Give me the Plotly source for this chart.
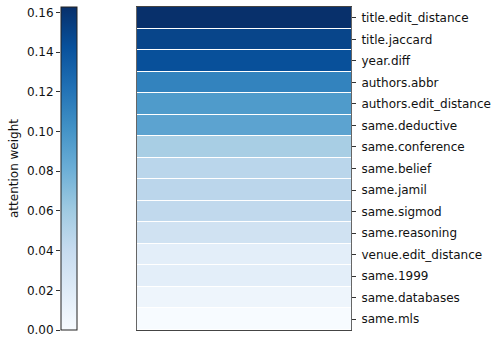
import plotly.graph_objects as go

features = ["title.edit_distance", "title.jaccard", "year.diff", "authors.abbr",
            "authors.edit_distance", "same.deductive", "same.conference", "same.belief",
            "same.jamil", "same.sigmod", "same.reasoning", "venue.edit_distance",
            "same.1999", "same.databases", "same.mls"]
weights = [0.1627, 0.150, 0.143, 0.111, 0.095, 0.089, 0.056, 0.0466, 0.0462,
           0.043, 0.032, 0.0165, 0.016, 0.0076, 0.0]
cbar_ticks = [0.00, 0.02, 0.04, 0.06, 0.08, 0.10, 0.12, 0.14, 0.16]

blues = [[0.0, "#f7fbff"], [0.125, "#deebf7"], [0.25, "#c6dbef"], [0.375, "#9ecae1"],
         [0.5, "#6baed6"], [0.625, "#4292c6"], [0.75, "#2171b5"], [0.875, "#08519c"],
         [1.0, "#08306b"]]

W, H = 493, 339
top, bottom = 7, 330
vmin, vmax = min(weights), max(weights)

fig = go.Figure()
fig.add_trace(go.Heatmap(
    z=[[w] for w in weights], x=[0], y=features,
    colorscale=blues, zmin=vmin, zmax=vmax, ygap=1, xaxis="x", yaxis="y",
    colorbar=dict(x=61 / W, xanchor="left", xref="paper", xpad=0, ypad=0,
                  thickness=16, len=1, lenmode="fraction", y=0.5, yanchor="middle",
                  outlinewidth=1, outlinecolor="#222", showticklabels=False, ticks=""),
    hoverinfo="skip",
))

font = dict(family="DejaVu Sans", size=12, color="#111")
fig.update_layout(
    width=W, height=H,
    margin=dict(l=0, r=0, t=top, b=H - bottom),
    paper_bgcolor="white", plot_bgcolor="white",
    font=font, showlegend=False,
    xaxis=dict(domain=[137 / W, 351 / W], showticklabels=False, ticks="",
               showgrid=False, zeroline=False, showline=True, linecolor="#444",
               linewidth=1, mirror=True),
    yaxis=dict(side="right", autorange="reversed", ticks="outside", ticklen=4,
               tickcolor="#333", showgrid=False, zeroline=False, showline=True,
               linecolor="#666", linewidth=1, mirror=True, tickfont=font,
               ticklabelstandoff=3),
    xaxis2=dict(domain=[61 / W, 77 / W], anchor="y2", visible=False, range=[0, 1]),
    yaxis2=dict(domain=[0, 1], anchor="x2", range=[0, vmax], side="left",
                tickvals=cbar_ticks, ticktext=[f"{t:.2f}" for t in cbar_ticks],
                ticks="outside", ticklen=4, tickcolor="#333", showgrid=False,
                zeroline=False, showline=False, tickfont=font,
                title=dict(text="attention weight", font=font, standoff=5)),
)
fig.add_trace(go.Scatter(x=[None], y=[None], xaxis="x2", yaxis="y2", hoverinfo="skip"))

fig.write_html("out.html")
